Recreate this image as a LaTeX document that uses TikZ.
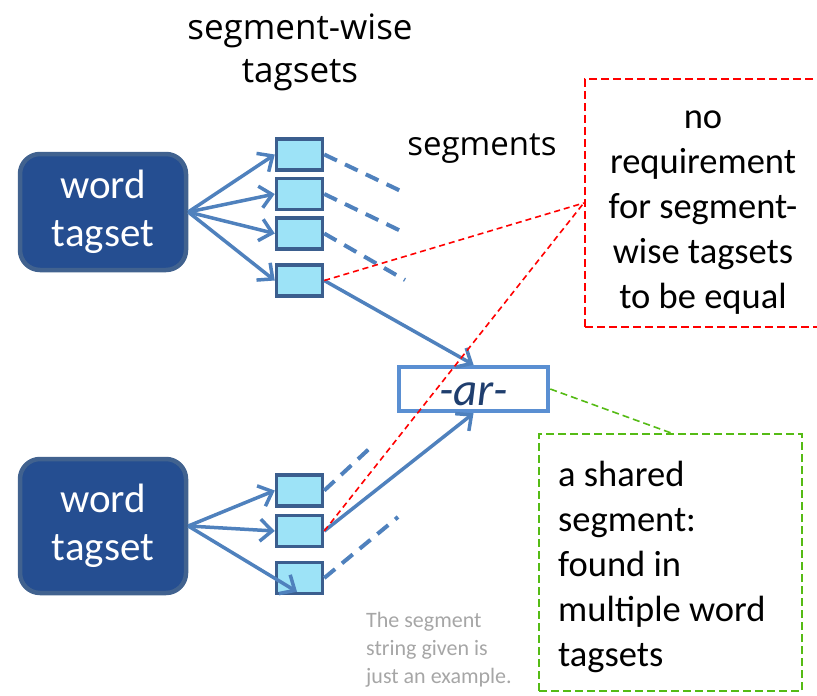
\documentclass[tikz,border=0pt]{standalone}
\usepackage{fontspec}
\setmainfont{Carlito}
\newfontfamily\titlefont{Open Sans}
\usetikzlibrary{arrows.meta,calc}
\definecolor{wordfill}{HTML}{254E91}
\definecolor{worddraw}{HTML}{41628F}
\definecolor{segfill}{HTML}{9DE3F7}
\definecolor{segdraw}{HTML}{3B5E8E}
\definecolor{arrblue}{HTML}{4F81BD}
\definecolor{ardraw}{HTML}{5A8FD2}
\definecolor{artext}{HTML}{1F3E6E}
\definecolor{notered}{HTML}{FF0000}
\definecolor{notegreen}{HTML}{55BB15}
\definecolor{graytext}{HTML}{A6A6A6}
\begin{document}
\begin{tikzpicture}[x=1pt,y=-1pt,
  wordbox/.style={draw=worddraw,fill=wordfill,line width=4.5pt,rounded corners=20pt,
    minimum width=166pt,text=white,align=center,inner sep=0pt,
    font=\fontsize{41}{48}\selectfont},
  segbox/.style={draw=segdraw,fill=segfill,line width=3.5pt,minimum width=46pt,minimum height=31pt,inner sep=0pt},
  arr/.style={draw=arrblue,line width=3.5pt,-{Straight Barb[length=12pt,width=22pt]}},
  bluedash/.style={draw=arrblue,line width=4pt,dash pattern=on 14pt off 9pt},
  reddash/.style={draw=notered,line width=1.6pt,dash pattern=on 6pt off 4pt},
  greendash/.style={draw=notegreen,line width=1.6pt,dash pattern=on 7pt off 4pt},
  notetext/.style={font=\fontsize{36.5}{45}\selectfont,inner sep=0pt}
]
\useasboundingbox (0,0) rectangle (817,696);

% titles
\node[font=\titlefont\fontsize{35}{43}\selectfont,align=center,inner sep=0pt] (title) at (300,52)
  {segment-wise\\tagsets};
\node[font=\titlefont\fontsize{33}{40}\selectfont,anchor=base,inner sep=0pt] (segtitle) at (482,155) {segments};

% word tagset boxes
\node[wordbox,minimum height=116pt] (w1) at (103,212) {word\\tagset};
\node[wordbox,minimum height=134pt] (w2) at (103,526) {word\\tagset};

% segment boxes
\node[segbox] (s1) at (299.5,154.5) {};
\node[segbox] (s2) at (299.5,194) {};
\node[segbox] (s3) at (299.5,233.5) {};
\node[segbox] (s4) at (299.5,280.5) {};
\node[segbox] (t1) at (299.5,490.5) {};
\node[segbox] (t2) at (299.5,531) {};
\node[segbox] (t3) at (299.5,578) {};

% shared segment box
\node[draw=ardraw,fill=white,line width=4.5pt,minimum width=149pt,minimum height=44pt,inner sep=0pt,
  text=artext,font=\fontsize{47}{50}\selectfont\itshape,text height=33pt,text depth=0pt] (ar) at (473.5,389) {-ar-};

% note boxes
\node[draw=notered,line width=2.5pt,dash pattern=on 8pt off 4pt,minimum width=236pt,minimum height=248pt,
  align=center,notetext] (red) at (703,203) {};
\node[notetext,align=center] (redtext) at (703,209)
  {\strut no\\requirement\\for segment-\\wise tagsets\\to be equal\strut};
\node[draw=notegreen,line width=2.5pt,dash pattern=on 8pt off 4pt,minimum width=263pt,minimum height=257pt,
  notetext] (green) at (670.5,562.5) {};
\node[notetext,align=flush left,anchor=west] (greentext) at (558,567)
  {\strut a shared\\segment:\\found in\\multiple word\\tagsets\strut};

\node[font=\fontsize{22}{28}\selectfont,text=graytext,align=flush left,anchor=west,inner sep=0pt] (gray) at (366,650)
  {The segment\\string given is\\just an example.};

% free ends of dashed segment lines
\coordinate (d1) at (405,193);
\coordinate (d2) at (405,233);
\coordinate (d3) at (405,280);
\coordinate (e1) at (370,448);
\coordinate (e3) at (398,517);
\coordinate (t3tip) at ($(t3.south)+(-2.5,-3.5)$);

% arrows from word tagsets
\draw[arr] (w1.east) -- (s1.west);
\draw[arr] (w1.east) -- (s2.west);
\draw[arr] (w1.east) -- (s3.west);
\draw[arr] (w1.east) -- (s4.west);
\draw[arr] (w2.east) -- (t1.west);
\draw[arr] (w2.east) -- (t2.west);
\draw[arr] (w2.east) -- (t3tip);

% dashed segment lines
\draw[bluedash] (s1.east) -- (d1);
\draw[bluedash] (s2.east) -- (d2);
\draw[bluedash] (s3.east) -- (d3);
\draw[bluedash] (t1.east) -- (e1);
\draw[bluedash] (t3.east) -- (e3);

% lines to the shared segment
\draw[arr] (s4.east) -- (ar.north);
\draw[arr] (t2.east) -- (ar.south);

% callout lines
\draw[reddash] (s4.east) -- (red.west);
\draw[reddash] (t2.east) -- (red.west);
\draw[greendash] (ar.east) -- (green.north);
\end{tikzpicture}
\end{document}
